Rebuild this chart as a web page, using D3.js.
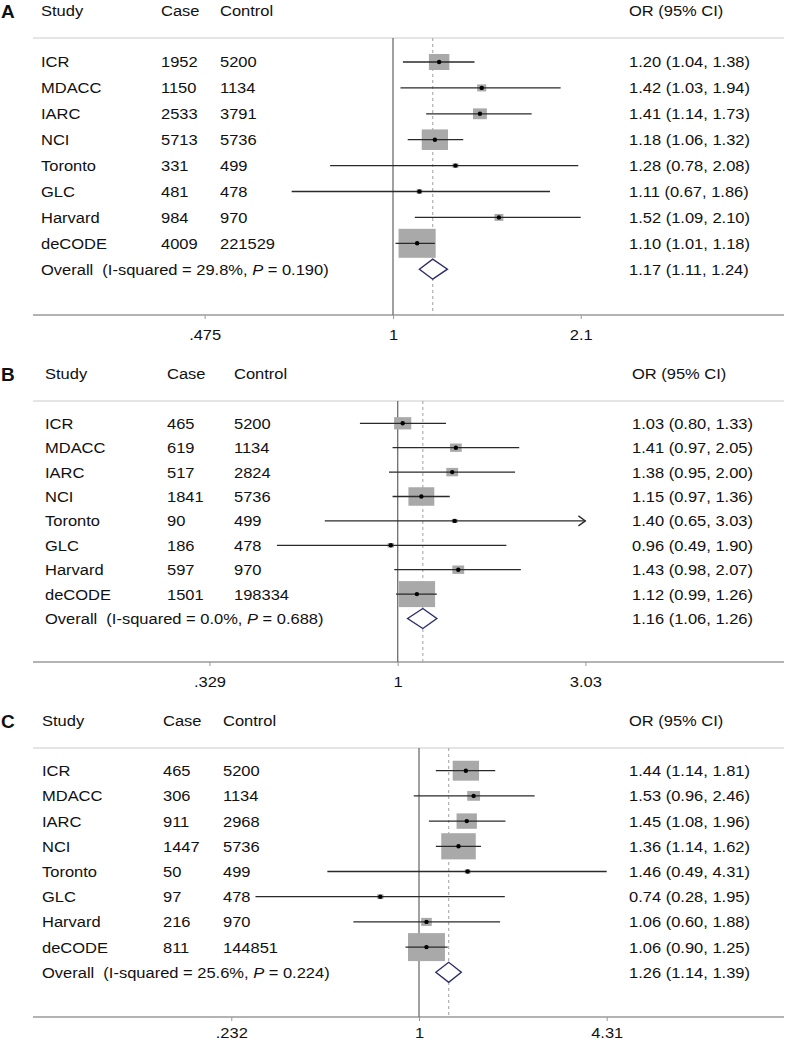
<!DOCTYPE html>
<html>
<head>
<meta charset="utf-8">
<script src="https://cdn.jsdelivr.net/npm/d3@7"></script>
<style>
  html, body { margin: 0; padding: 0; background: #fff; }
  svg { display: block; }
  text { font-family: "Liberation Sans", Arial, sans-serif; fill: #111; white-space: pre; }
</style>
</head>
<body>
<svg id="chart" width="787" height="1042"></svg>
<script>
// ---------------- DATA ----------------
const studies = ["ICR", "MDACC", "IARC", "NCI", "Toronto", "GLC", "Harvard", "deCODE"];

const casesA    = ["1952", "1150", "2533", "5713", "331", "481", "984", "4009"];
const controlsA = ["5200", "1134", "3791", "5736", "499", "478", "970", "221529"];
const orA       = [1.20, 1.42, 1.41, 1.18, 1.28, 1.11, 1.52, 1.10];
const lowA      = [1.04, 1.03, 1.14, 1.06, 0.78, 0.67, 1.09, 1.01];
const highA     = [1.38, 1.94, 1.73, 1.32, 2.08, 1.86, 2.10, 1.18];
const weightA   = [14.4, 2.8, 6.6, 23.8, 1.2, 1.1, 2.7, 47.4];
const arrowA    = [false, false, false, false, false, false, false, false];
const overallA  = [1.17, 1.11, 1.24];
const hetA      = ["29.8%", "0.190"];
const ticksA    = [0.475, 1, 2.1];
const tickLabelsA = [".475", "1", "2.1"];

const casesB    = ["465", "619", "517", "1841", "90", "186", "597", "1501"];
const controlsB = ["5200", "1134", "2824", "5736", "499", "478", "970", "198334"];
const orB       = [1.03, 1.41, 1.38, 1.15, 1.40, 0.96, 1.43, 1.12];
const lowB      = [0.80, 0.97, 0.95, 0.97, 0.65, 0.49, 0.98, 0.99];
const highB     = [1.33, 2.05, 2.00, 1.36, 3.03, 1.90, 2.07, 1.26];
const weightB   = [10.6, 4.9, 5.0, 24.1, 1.2, 1.5, 5.0, 47.6];
const arrowB    = [false, false, false, false, true, false, false, false];
const overallB  = [1.16, 1.06, 1.26];
const hetB      = ["0.0%", "0.688"];
const ticksB    = [0.329, 1, 3.03];
const tickLabelsB = [".329", "1", "3.03"];

const casesC    = ["465", "306", "911", "1447", "50", "97", "216", "811"];
const controlsC = ["5200", "1134", "2968", "5736", "499", "478", "970", "144851"];
const orC       = [1.44, 1.53, 1.45, 1.36, 1.46, 0.74, 1.06, 1.06];
const lowC      = [1.14, 0.96, 1.08, 1.14, 0.49, 0.28, 0.60, 0.90];
const highC     = [1.81, 2.46, 1.96, 1.62, 4.31, 1.95, 1.88, 1.25];
const weightC   = [17.2, 4.1, 10.3, 29.7, 0.8, 1.0, 2.8, 34.0];
const arrowC    = [false, false, false, false, false, false, false, false];
const overallC  = [1.26, 1.14, 1.39];
const hetC      = ["25.6%", "0.224"];
const ticksC    = [0.232, 1, 4.31];
const tickLabelsC = [".232", "1", "4.31"];

// ---------------- LAYOUT ----------------
const panels = [
  { letter: "A", cases: casesA, controls: controlsA, or: orA, low: lowA, high: highA, weight: weightA, arrow: arrowA,
    overall: overallA, het: hetA, ticks: ticksA, tickLabels: tickLabelsA,
    headerY: 11, topY: 38, row0: 62, step: 25.9, axisY: 315, tickY: 335,
    cols: [41, 161, 220, 629], x1: 393, maxBox: 29, aspect: 1.28 },
  { letter: "B", cases: casesB, controls: controlsB, or: orB, low: lowB, high: highB, weight: weightB, arrow: arrowB,
    overall: overallB, het: hetB, ticks: ticksB, tickLabels: tickLabelsB,
    headerY: 374, topY: 401, row0: 423.3, step: 24.4, axisY: 662, tickY: 682,
    cols: [45, 167, 234, 632], x1: 397.7, maxBox: 26, aspect: 1.4 },
  { letter: "C", cases: casesC, controls: controlsC, or: orC, low: lowC, high: highC, weight: weightC, arrow: arrowC,
    overall: overallC, het: hetC, ticks: ticksC, tickLabels: tickLabelsC,
    headerY: 721, topY: 748, row0: 770.7, step: 25.2, axisY: 1017, tickY: 1032.5,
    cols: [42, 163, 223, 629], x1: 419, maxBox: 28, aspect: 1.32 }
];

const halfSpan = 187.7;
const lineX0 = 33, lineX1 = 784;
const fontSize = 15;
const sx = 1.1;
const fmt = d3.format(".2f");

const svg = d3.select("#chart");

panels.forEach(p => {
  const g = svg.append("g");
  const x = d3.scaleLog().domain([1, p.ticks[2]]).range([p.x1, p.x1 + halfSpan]);
  const xMin = x(p.ticks[0]), xMax = x(p.ticks[2]);
  const rowY = i => p.row0 + i * p.step;
  const overallY = rowY(studies.length);

  const txt = (xx, yy, s, anchor) => g.append("text")
    .attr("transform", `translate(${xx},${yy}) scale(${sx},1)`)
    .attr("dy", "0.36em")
    .attr("font-size", fontSize)
    .attr("text-anchor", anchor || "start")
    .text(s);

  // panel letter
  g.append("text").attr("x", 1).attr("y", p.headerY).attr("dy", "0.36em")
    .attr("font-size", 19).attr("font-weight", "bold").attr("fill", "#000")
    .text(p.letter);

  // header
  txt(p.cols[0], p.headerY, "Study");
  txt(p.cols[1], p.headerY, "Case");
  txt(p.cols[2], p.headerY, "Control");
  txt(p.cols[3], p.headerY, "OR (95% CI)");

  // separator and axis lines
  g.append("line").attr("x1", lineX0).attr("x2", lineX1)
    .attr("y1", p.topY).attr("y2", p.topY)
    .attr("stroke", "#dcdcdc").attr("stroke-width", 1.5);
  g.append("line").attr("x1", lineX0).attr("x2", lineX1)
    .attr("y1", p.axisY).attr("y2", p.axisY)
    .attr("stroke", "#9a9a9a").attr("stroke-width", 1.3);

  // axis ticks via d3 axis
  const axis = d3.axisBottom(x).tickValues(p.ticks)
    .tickFormat((d, i) => p.tickLabels[i]).tickSize(4).tickPadding(8);
  const ax = g.append("g").attr("transform", `translate(0,${p.axisY})`).call(axis);
  ax.select(".domain").remove();
  ax.selectAll(".tick line").attr("stroke", "#9a9a9a").attr("stroke-width", 1);
  ax.selectAll(".tick text").attr("font-size", fontSize).attr("fill", "#111")
    .attr("font-family", '"Liberation Sans", Arial, sans-serif')
    .attr("y", null).attr("dy", "0.36em")
    .attr("transform", `translate(0,${p.tickY - p.axisY}) scale(${sx},1)`);

  // null line at 1
  g.append("line").attr("x1", x(1)).attr("x2", x(1))
    .attr("y1", p.topY).attr("y2", p.axisY)
    .attr("stroke", "#6e6e6e").attr("stroke-width", 1.3);

  // overall dashed line
  g.append("line").attr("x1", x(p.overall[0])).attr("x2", x(p.overall[0]))
    .attr("y1", p.topY).attr("y2", p.axisY)
    .attr("stroke", "#a8a8a8").attr("stroke-width", 1.1)
    .attr("stroke-dasharray", "3,3");

  const maxW = d3.max(p.weight);

  studies.forEach((s, i) => {
    const y = rowY(i);
    txt(p.cols[0], y, s);
    txt(p.cols[1], y, p.cases[i]);
    txt(p.cols[2], y, p.controls[i]);
    txt(p.cols[3], y, `${fmt(p.or[i])} (${fmt(p.low[i])}, ${fmt(p.high[i])})`);

    // box
    const h = p.maxBox * Math.sqrt(p.weight[i] / maxW);
    const w = h * p.aspect;
    g.append("rect")
      .attr("x", x(p.or[i]) - w / 2).attr("y", y - h / 2)
      .attr("width", w).attr("height", h)
      .attr("fill", "#a9a9a9");

    // CI line
    const lo = Math.max(x(p.low[i]), xMin);
    const hi = Math.min(x(p.high[i]), xMax);
    g.append("line").attr("x1", lo).attr("x2", hi)
      .attr("y1", y).attr("y2", y)
      .attr("stroke", "#2a2a2a").attr("stroke-width", 1.3);
    if (p.arrow[i]) {
      g.append("path")
        .attr("d", `M${hi - 7},${y - 5} L${hi},${y} L${hi - 7},${y + 5}`)
        .attr("fill", "none").attr("stroke", "#2a2a2a").attr("stroke-width", 1.3);
    }
    // point
    g.append("circle").attr("cx", x(p.or[i])).attr("cy", y).attr("r", 2.2)
      .attr("fill", "#000");
  });

  // overall row
  const ot = g.append("text")
    .attr("transform", `translate(${p.cols[0]},${overallY}) scale(${sx},1)`)
    .attr("dy", "0.36em").attr("font-size", fontSize);
  ot.append("tspan").text(`Overall  (I-squared = ${p.het[0]}, `);
  ot.append("tspan").attr("font-style", "italic").text("P");
  ot.append("tspan").text(` = ${p.het[1]})`);
  txt(p.cols[3], overallY, `${fmt(p.overall[0])} (${fmt(p.overall[1])}, ${fmt(p.overall[2])})`);

  const dh = 10;
  const ox = x(p.overall[0]), ol = x(p.overall[1]), oh = x(p.overall[2]);
  g.append("path")
    .attr("d", `M${ol},${overallY} L${ox},${overallY - dh} L${oh},${overallY} L${ox},${overallY + dh} Z`)
    .attr("fill", "#fff").attr("stroke", "#2c2c6c").attr("stroke-width", 1.4);
});
</script>
</body>
</html>
